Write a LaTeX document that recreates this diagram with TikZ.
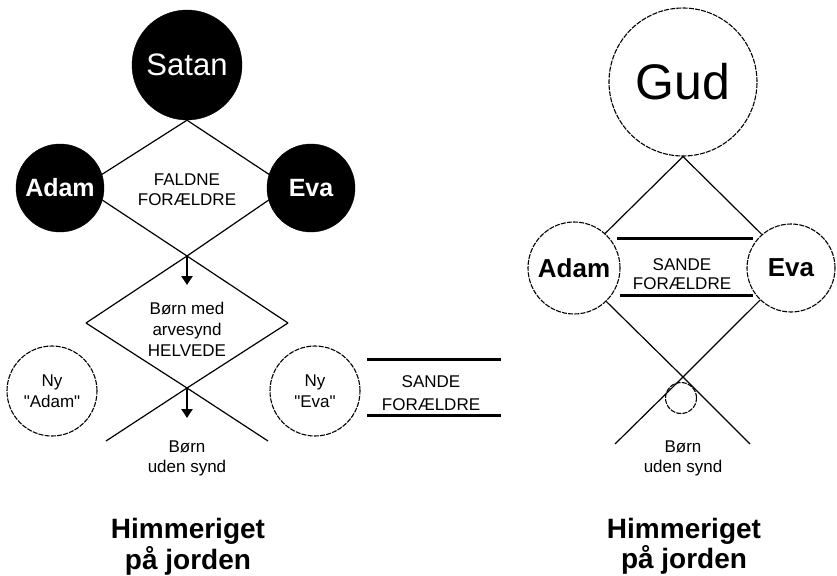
\documentclass[tikz,border=0pt]{standalone}
\usepackage{fontspec}
\setmainfont{Liberation Sans}[Ligatures=TeXOff]
\usetikzlibrary{arrows.meta}
\begin{document}
\begin{tikzpicture}[x=1pt,y=-1pt,
  blackc/.style={circle,fill=black,draw=black,inner sep=0pt,minimum size=#1,text=white},
  dashc/.style={circle,draw=black,line width=1.1pt,dash pattern=on 5pt off 1.2pt,inner sep=0pt,minimum size=#1},
  ln/.style={line width=1.2pt},
  bar/.style={line width=3pt},
  lbl/.style={font=\fontsize{17}{#1}\selectfont,align=center,inner sep=0pt},
  lbl/.default=20,
  bigtxt/.style={font=\fontsize{28}{#1}\selectfont\bfseries,align=center,inner sep=0pt},
  arr/.style={line width=2.6pt,-{Triangle[width=11pt,length=9pt]}}]
\useasboundingbox (0,0) rectangle (837,575);
\fill[white] (0,0) rectangle (837,575);

% ---------- left diagram ----------
\node[blackc=110pt,font=\fontsize{31}{36}\selectfont] (satan) at (187,65) {Satan};
\node[blackc=88pt,font=\fontsize{25}{30}\selectfont\bfseries] (adamL) at (60,188) {Adam};
\node[blackc=88pt,font=\fontsize{25}{30}\selectfont\bfseries] (evaL) at (311,188) {Eva};
\node[lbl] (faldne) at (187,190) {FALDNE\\FORÆLDRE};

\coordinate (x1) at (187,256);
\coordinate (lv) at (86,323);
\coordinate (rv) at (288,323);
\coordinate (x2) at (187,388);
\coordinate (ll) at (106,441);
\coordinate (lr) at (268,441);
\coordinate (a1) at (187,285);
\coordinate (a2) at (187,418);

\draw[ln] (adamL.18) -- (satan.south) -- (evaL.162);
\draw[ln] (adamL.-16) -- (x1) -- (rv);
\draw[ln] (evaL.196) -- (x1) -- (lv);
\draw[ln] (lv) -- (x2) -- (lr);
\draw[ln] (rv) -- (x2) -- (ll);
\draw[arr] (x1) -- (a1);
\draw[arr] (x2) -- (a2);

\node[lbl=21] (helvede) at (187,329) {Børn med\\arvesynd\\HELVEDE};
\node[dashc=90pt,lbl=21] (nyadam) at (52,391) {Ny\\"Adam"};
\node[dashc=90pt,lbl=21] (nyeva) at (315,391) {Ny\\"Eva"};

\coordinate (s1a) at (367,359);
\coordinate (s1b) at (501,359);
\coordinate (s2a) at (367,415);
\coordinate (s2b) at (501,415);
\draw[bar] (s1a) -- (s1b);
\draw[bar] (s2a) -- (s2b);
\node[lbl=23] (sandeL) at (431,393) {SANDE\\FORÆLDRE};

\node[lbl=20] (bornL) at (187,458) {Børn\\uden synd};
\node[bigtxt=31] (himL) at (188,546.5) {Himmeriget\\på jorden};

% ---------- right diagram ----------
\node[dashc=148pt,font=\fontsize{50}{56}\selectfont] (gud) at (683,82) {Gud};
\node[dashc=92pt,font=\fontsize{26}{30}\selectfont\bfseries] (adamR) at (574,268) {Adam};
\node[dashc=88pt,font=\fontsize{26}{30}\selectfont\bfseries] (evaR) at (791,268) {Eva};

\draw[ln] (adamR.48) -- (gud.south) -- (evaR.131);

\coordinate (t1a) at (617,238);
\coordinate (t1b) at (753,238);
\coordinate (t2a) at (620,295);
\coordinate (t2b) at (753,295);
\draw[bar] (t1a) -- (t1b);
\draw[bar] (t2a) -- (t2b);
\node[lbl=19] (sandeR) at (682,274.5) {SANDE\\FORÆLDRE};

\coordinate (xr) at (683,377);
\coordinate (er) at (750,444);
\coordinate (el) at (615,444);
\draw[ln] (adamR.-46) -- (xr) -- (er);
\draw[ln] (evaR.226) -- (xr) -- (el);
\node[dashc=31pt] (child) at (681,398) {};

\node[lbl=20] (bornR) at (683,458) {Børn\\uden synd};
\node[bigtxt=27] (himR) at (684,546.5) {Himmeriget\\på jorden};
\end{tikzpicture}
\end{document}
